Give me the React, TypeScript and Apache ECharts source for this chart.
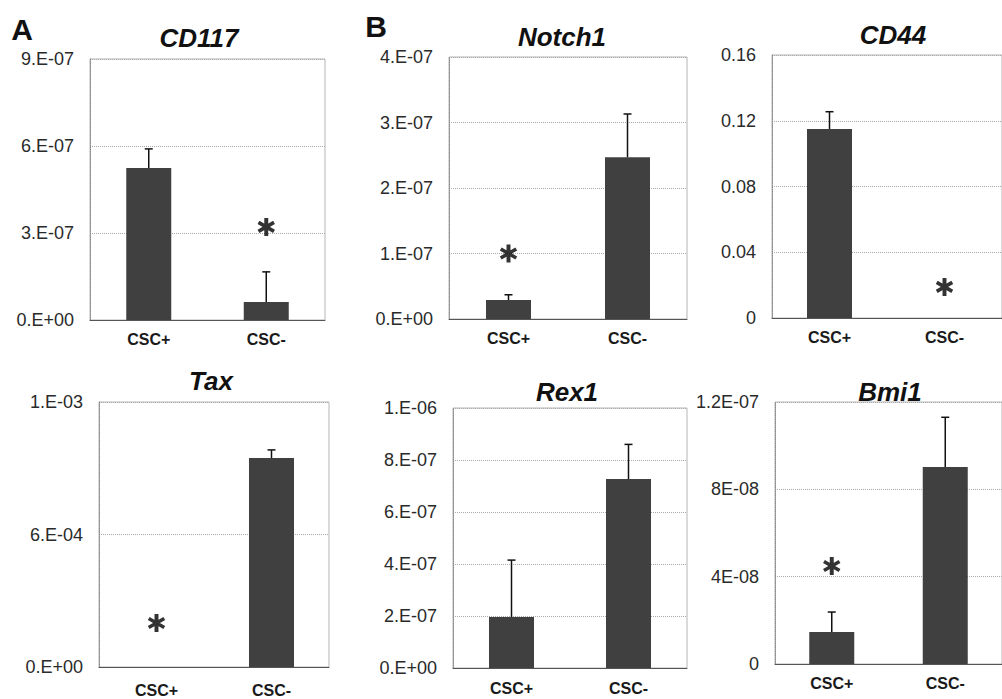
import React, { useEffect, useRef } from "react";
import * as echarts from "echarts";

const categories = ["CSC+", "CSC-"];

// Means and error bar heights (SD) for each gene panel
const cd117Mean = [5.24e-7, 0.62e-7];
const cd117Err = [0.66e-7, 1.04e-7];
const notch1Mean = [0.29e-7, 2.47e-7];
const notch1Err = [0.08e-7, 0.66e-7];
const cd44Mean = [0.115, 0];
const cd44Err = [0.0105, 0];
const taxMean = [0, 0.946e-3];
const taxErr = [0, 0.037e-3];
const rex1Mean = [1.96e-7, 7.27e-7];
const rex1Err = [2.19e-7, 1.33e-7];
const bmi1Mean = [1.47e-8, 9.02e-8];
const bmi1Err = [0.91e-8, 2.28e-8];

// Tick labels (as printed in the figure)
const cd117Ticks = ["0.E+00", "3.E-07", "6.E-07", "9.E-07"];
const notch1Ticks = ["0.E+00", "1.E-07", "2.E-07", "3.E-07", "4.E-07"];
const cd44Ticks = ["0", "0.04", "0.08", "0.12", "0.16"];
const taxTicks = ["0.E+00", "6.E-04", "1.E-03"];
const rex1Ticks = ["0.E+00", "2.E-07", "4.E-07", "6.E-07", "8.E-07", "1.E-06"];
const bmi1Ticks = ["0", "4E-08", "8E-08", "1.2E-07"];

// Significance asterisks: [category index, value]
const cd117Star = [[1, 3.21e-7]];
const notch1Star = [[0, 1.0e-7]];
const cd44Star = [[1, 0.0189]];
const taxStar = [[0, 1.99e-4]];
const rex1Star: number[][] = [];
const bmi1Star = [[0, 4.49e-8]];

const ASTERISK =
  "path://M39 0 L61 0 L61 100 L39 100 Z M1.7 33.66 L11.7 16.34 L98.3 66.34 L88.3 83.66 Z M11.7 83.66 L1.7 66.34 L88.3 16.34 L98.3 33.66 Z";

const FONT = '"Liberation Sans", Arial, sans-serif';

const panels = [
  { name: "CD117", mean: cd117Mean, err: cd117Err, ticks: cd117Ticks, max: 9e-7, interval: 3e-7, star: cd117Star,
    grid: { left: 90, top: 59, width: 235, height: 261 }, title: [199, 38], catMargin: 11 },
  { name: "Notch1", mean: notch1Mean, err: notch1Err, ticks: notch1Ticks, max: 4e-7, interval: 1e-7, star: notch1Star,
    grid: { left: 449, top: 57, width: 238, height: 262 }, title: [562, 37], catMargin: 11 },
  { name: "CD44", mean: cd44Mean, err: cd44Err, ticks: cd44Ticks, max: 0.16, interval: 0.04, star: cd44Star,
    grid: { left: 772, top: 55, width: 236, height: 263 }, title: [893, 35], catMargin: 11 },
  { name: "Tax", mean: taxMean, err: taxErr, ticks: taxTicks, max: 1.2e-3, interval: 6e-4, star: taxStar,
    grid: { left: 99, top: 402, width: 230, height: 265 }, title: [211, 381], catMargin: 15 },
  { name: "Rex1", mean: rex1Mean, err: rex1Err, ticks: rex1Ticks, max: 1e-6, interval: 2e-7, star: rex1Star,
    grid: { left: 453, top: 408, width: 234, height: 260 }, title: [567, 392], catMargin: 12 },
  { name: "Bmi1", mean: bmi1Mean, err: bmi1Err, ticks: bmi1Ticks, max: 1.2e-7, interval: 4e-8, star: bmi1Star,
    grid: { left: 775, top: 402, width: 234, height: 262 }, title: [890, 392], catMargin: 11 },
];

export default function App() {
  const ref = useRef<HTMLDivElement>(null);

  useEffect(() => {
    document.body.style.margin = "0";
    if (!ref.current) return;
    const chart = echarts.init(ref.current, undefined, { renderer: "svg" });

    const grids: any[] = [];
    const xAxes: any[] = [];
    const yAxes: any[] = [];
    const series: any[] = [];
    const graphics: any[] = [];

    panels.forEach((p, i) => {
      grids.push({
        ...p.grid,
        show: true,
        borderColor: "#b5b5b5",
        borderWidth: 1,
        backgroundColor: "transparent",
        containLabel: false,
      });
      xAxes.push({
        type: "category",
        gridIndex: i,
        data: categories,
        axisLine: { show: true, lineStyle: { color: "#555", width: 1 } },
        axisTick: { show: false },
        axisLabel: { color: "#1a1a1a", fontSize: 16, fontWeight: "bold", fontFamily: FONT, margin: p.catMargin },
      });
      const ticks = p.ticks;
      const interval = p.interval;
      yAxes.push({
        type: "value",
        gridIndex: i,
        min: 0,
        max: p.max,
        interval: interval,
        axisLine: { show: true, lineStyle: { color: "#888", type: "dotted" } },
        axisTick: { show: false },
        splitLine: { show: true, lineStyle: { color: "#aaa", type: "dotted", width: 1 } },
        axisLabel: {
          color: "#2a2a2a",
          fontSize: 18,
          fontFamily: FONT,
          margin: 16,
          formatter: (v: number) => {
            const k = Math.round(v / interval);
            return ticks[k] ?? "";
          },
        },
      });
      series.push({
        type: "bar",
        xAxisIndex: i,
        yAxisIndex: i,
        data: p.mean,
        barWidth: 45,
        itemStyle: { color: "#404040" },
        z: 2,
      });
      series.push({
        type: "custom",
        xAxisIndex: i,
        yAxisIndex: i,
        data: p.mean.map((m, k) => [k, m, p.err[k]]),
        encode: { x: 0, y: 1 },
        z: 3,
        renderItem: (_params: any, api: any) => {
          const e = api.value(2);
          if (!e) return null;
          const base = api.coord([api.value(0), api.value(1)]);
          const hi = api.coord([api.value(0), api.value(1) + e]);
          const st = { stroke: "#111", lineWidth: 1.5 };
          return {
            type: "group",
            children: [
              { type: "line", shape: { x1: base[0], y1: base[1], x2: hi[0], y2: hi[1] }, style: st },
              { type: "line", shape: { x1: hi[0] - 4, y1: hi[1], x2: hi[0] + 4, y2: hi[1] }, style: st },
            ],
          };
        },
      });
      if (p.star.length) {
        series.push({
          type: "scatter",
          xAxisIndex: i,
          yAxisIndex: i,
          data: p.star,
          symbol: ASTERISK,
          symbolSize: 18,
          symbolKeepAspect: true,
          itemStyle: { color: "#000" },
          z: 4,
        });
      }
      graphics.push({
        type: "text",
        x: p.title[0],
        y: p.title[1],
        style: {
          text: p.name,
          fontSize: 26,
          fontWeight: "bold",
          fontStyle: "italic",
          fontFamily: FONT,
          fill: "#111",
          align: "center",
          verticalAlign: "middle",
        },
      });
    });

    graphics.push({
      type: "text",
      x: 22,
      y: 29,
      style: { text: "A", fontSize: 30, fontWeight: "bold", fontFamily: FONT, fill: "#111", align: "center", verticalAlign: "middle" },
    });
    graphics.push({
      type: "text",
      x: 376,
      y: 26,
      style: { text: "B", fontSize: 30, fontWeight: "bold", fontFamily: FONT, fill: "#111", align: "center", verticalAlign: "middle" },
    });

    chart.setOption({
      animation: false,
      backgroundColor: "#ffffff",
      grid: grids,
      xAxis: xAxes,
      yAxis: yAxes,
      series,
      graphic: graphics,
    });

    return () => chart.dispose();
  }, []);

  return <div ref={ref} style={{ width: 1002, height: 699 }} />;
}
